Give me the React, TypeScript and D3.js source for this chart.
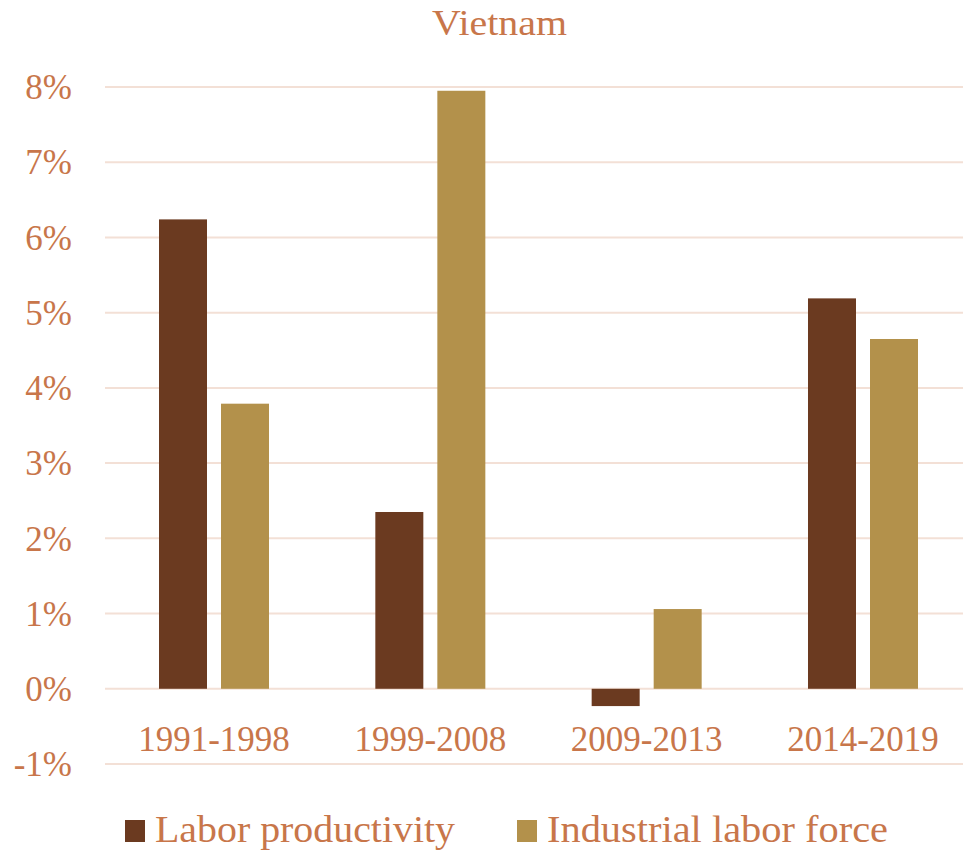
import * as d3 from "d3"

const categories = ["1991-1998", "1999-2008", "2009-2013", "2014-2019"]
const seriesNames = ["Labor productivity", "Industrial labor force"]
const laborProductivity = [6.24, 2.35, -0.23, 5.19]
const industrialLaborForce = [3.79, 7.95, 1.06, 4.65]
const yTicks = [-1, 0, 1, 2, 3, 4, 5, 6, 7, 8]

const colors = ["#6B3A20", "#B3914B"]
const textColor = "#C8764A"
const gridColor = "#F3E0D6"
const font = "'Liberation Serif', 'DejaVu Serif', serif"

export default function App() {
  const w = 963
  const h = 850
  const left = 105
  const right = 963

  const y = d3.scaleLinear().domain([-1, 8]).range([764, 87])

  const x = d3
    .scaleBand<string>()
    .domain(categories)
    .range([110, 967])
    .paddingInner(0.4915)
    .paddingOuter(0.2265)

  const xs = d3
    .scaleBand<string>()
    .domain(seriesNames)
    .range([0, x.bandwidth()])
    .paddingInner(0.226)
    .paddingOuter(0)

  const series = [laborProductivity, industrialLaborForce]
  const legendX = [125, 517]
  const legendLen = [300, 341]

  return (
    <div style={{ position: "absolute", left: 0, top: 0 }}>
      <svg width={w} height={h} viewBox={`0 0 ${w} ${h}`} style={{ display: "block", background: "#fff" }}>
        <text
          x={499.5}
          y={35}
          textAnchor="middle"
          fontFamily={font}
          fontSize={36}
          fill={textColor}
          textLength={135}
          lengthAdjust="spacingAndGlyphs"
        >
          Vietnam
        </text>

        {yTicks.map((t) => (
          <g key={t}>
            <line x1={left} x2={right} y1={y(t)} y2={y(t)} stroke={gridColor} strokeWidth={2} />
            <text
              x={72}
              y={y(t)}
              dy="0.35em"
              textAnchor="end"
              fontFamily={font}
              fontSize={35}
              fill={textColor}
            >
              {t}%
            </text>
          </g>
        ))}

        {categories.map((c, i) => (
          <g key={c} transform={`translate(${x(c)},0)`}>
            {series.map((s, j) => {
              const v = s[i]
              return (
                <rect
                  key={seriesNames[j]}
                  x={xs(seriesNames[j])}
                  y={y(Math.max(0, v))}
                  width={xs.bandwidth()}
                  height={Math.abs(y(v) - y(0))}
                  fill={colors[j]}
                />
              )
            })}
          </g>
        ))}

        {categories.map((c) => (
          <text
            key={c}
            x={(x(c) || 0) + x.bandwidth() / 2}
            y={751}
            textAnchor="middle"
            fontFamily={font}
            fontSize={35}
            fill={textColor}
          >
            {c}
          </text>
        ))}

        {seriesNames.map((n, j) => (
          <g key={n}>
            <rect x={legendX[j]} y={820} width={20} height={22} fill={colors[j]} />
            <text
              x={legendX[j] + 30}
              y={842}
              fontFamily={font}
              fontSize={38}
              fill={textColor}
              textLength={legendLen[j]}
              lengthAdjust="spacingAndGlyphs"
            >
              {n}
            </text>
          </g>
        ))}
      </svg>
    </div>
  )
}
